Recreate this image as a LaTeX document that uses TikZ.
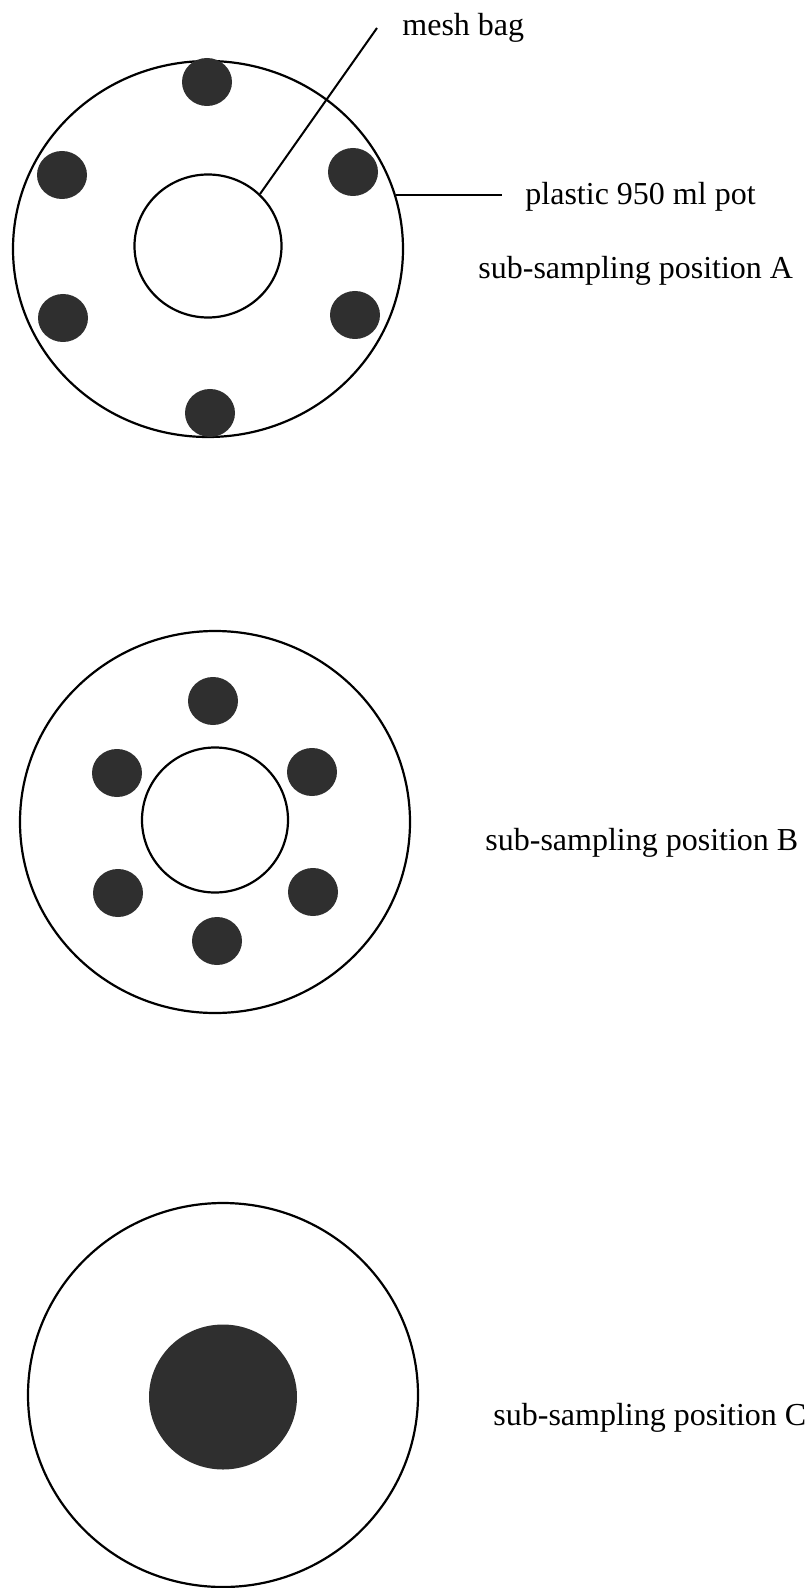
\documentclass[tikz,border=0pt]{standalone}
\usepackage{fontspec}
\setmainfont{Liberation Serif}
\usetikzlibrary{shapes.geometric}
\definecolor{dotgray}{HTML}{2F2F2F}

\begin{document}
\begin{tikzpicture}[x=0.5pt,y=-0.5pt, pot/.style={draw,ellipse,line width=1.1pt,inner sep=0pt,minimum width=195pt}, dot/.style={ellipse,fill=dotgray,inner sep=0pt,minimum width=25pt,minimum height=24pt}, lbl/.style={anchor=base west,inner sep=0pt,font=\fontsize{16}{19}\selectfont}, lead/.style={line width=1pt}]
\useasboundingbox (0,0) rectangle (812,1588);
% position A
\node[pot,minimum height=188pt] (outA) at (208,249) {};
\node[pot,minimum width=73.5pt,minimum height=71.5pt] (inA) at (208,246) {};
\foreach \x/\y [count=\i] in {207/82,62/175,353/172,63/318,355/315,210/413}
  \node[dot] (dA\i) at (\x,\y) {};
\node[lbl] (mesh) at (402,36) {mesh bag};
\node[lbl] (plastic) at (525,205) {plastic 950 ml pot};
\node[lbl] (posA) at (478,279) {sub-sampling position A};
\coordinate (meshtip) at (377,28);
\coordinate (potend) at (502,195);
\draw[lead] (inA.45) -- (meshtip);
\draw[lead] (outA.16) -- (outA.16 -| potend);
% position B
\node[pot,minimum height=191pt] (outB) at (215,822) {};
\node[pot,minimum width=73pt,minimum height=72.5pt] (inB) at (215,820) {};
\foreach \x/\y [count=\i] in {213/701,117/773,312/772,118/893,313/892,217/941}
  \node[dot] (dB\i) at (\x,\y) {};
\node[lbl] (posB) at (485,850) {sub-sampling position B};
% position C
\node[pot,minimum height=192pt] (outC) at (223,1395) {};
\node[ellipse,fill=dotgray,inner sep=0pt,minimum width=74pt,minimum height=72.5pt] (bulk) at (223,1397) {};
\node[lbl] (posC) at (493,1425) {sub-sampling position C};
\end{tikzpicture}
\end{document}
